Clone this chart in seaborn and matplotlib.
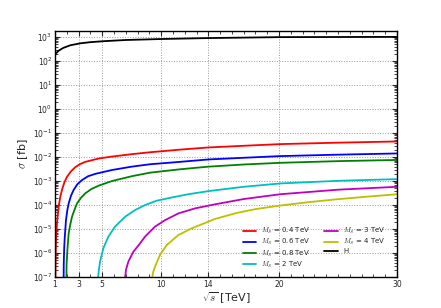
import numpy as np
import pandas as pd
import matplotlib
matplotlib.use("Agg")
import matplotlib.pyplot as plt
import matplotlib.ticker as mticker
import seaborn as sns

# sqrt(s) [TeV] and log10(sigma / fb)
x_04 = [1.0, 1.03, 1.06, 1.1, 1.17, 1.31, 1.45, 1.59, 1.8, 2.02, 2.35, 2.72, 3.1, 3.57, 4.71,
        5.83, 7.5, 9.06, 11.6, 14.0, 17.0, 20.1, 25.0, 30.0]
lg_04 = [-7.8, -7.2, -6.0, -5.3, -4.75, -4.07, -3.65, -3.37, -3.05, -2.82, -2.6, -2.42, -2.3, -2.2, -2.06,
         -1.98, -1.88, -1.8, -1.69, -1.6, -1.53, -1.46, -1.4, -1.35]

x_06 = [1.72, 1.74, 1.78, 1.82, 1.93, 2.05, 2.16, 2.35, 2.58, 2.9, 3.29, 3.8, 4.42, 5.83, 7.5,
        9.06, 11.6, 14.0, 17.0, 20.1, 25.0, 30.0]
lg_06 = [-8.0, -6.5, -5.8, -5.4, -4.63, -4.2, -3.93, -3.62, -3.37, -3.13, -2.96, -2.8, -2.7, -2.54, -2.4,
         -2.3, -2.2, -2.1, -2.03, -1.96, -1.9, -1.85]

x_08 = [1.95, 1.98, 2.05, 2.16, 2.3, 2.44, 2.65, 2.87, 3.2, 3.57, 4.1, 4.71, 5.83, 7.5, 9.06,
        11.6, 14.0, 17.0, 20.1, 25.0, 30.0]
lg_08 = [-8.0, -6.5, -5.88, -5.18, -4.8, -4.49, -4.2, -3.93, -3.7, -3.51, -3.33, -3.19, -3.0, -2.8, -2.65,
         -2.51, -2.4, -2.31, -2.24, -2.17, -2.12]

x_2 = [4.62, 4.66, 4.72, 4.82, 5.1, 5.52, 6.09, 6.94, 7.79, 8.63, 9.62, 10.75, 12.3, 14.0, 17.0,
       20.1, 25.0, 30.0]
lg_2 = [-8.0, -7.0, -6.7, -6.36, -5.8, -5.32, -4.9, -4.49, -4.21, -4.0, -3.82, -3.7, -3.55, -3.42, -3.24,
        -3.1, -2.99, -2.92]

x_3 = [6.9, 6.95, 7.02, 7.22, 7.64, 8.21, 8.63, 9.48, 10.33, 11.46, 12.87, 14.57, 17.0, 20.1, 25.0, 30.0]
lg_3 = [-8.0, -7.0, -6.7, -6.36, -5.95, -5.6, -5.32, -4.9, -4.63, -4.35, -4.14, -3.97, -3.75, -3.55, -3.36, -3.24]

x_4 = [9.18, 9.25, 9.32, 9.48, 9.9, 10.47, 11.46, 12.6, 14.57, 16.4, 18.0, 20.1, 22.5, 24.9, 27.5, 30.0]
lg_4 = [-8.0, -7.0, -6.8, -6.57, -6.08, -5.67, -5.25, -4.97, -4.58, -4.33, -4.17, -4.02, -3.88, -3.76, -3.65, -3.55]

x_h = [1.0, 1.08, 1.3, 1.7, 2.3, 3.12, 4.0, 5.1, 7.0, 9.9, 13.9, 20.1, 30.0]
lg_h = [2.25, 2.32, 2.43, 2.55, 2.66, 2.74, 2.79, 2.83, 2.88, 2.92, 2.96, 3.0, 3.01]

labels = [r"$M_S$ = 0.4 TeV", r"$M_S$ = 0.6 TeV", r"$M_S$ = 0.8 TeV", r"$M_S$ = 2 TeV",
          r"$M_S$ = 3 TeV", r"$M_S$ = 4 TeV", "H"]
colors = ["r", "b", "g", "c", "m", "y", "k"]
xs = [x_04, x_06, x_08, x_2, x_3, x_4, x_h]
lgs = [lg_04, lg_06, lg_08, lg_2, lg_3, lg_4, lg_h]

df = pd.concat([pd.DataFrame({"sqrts": x, "sigma": 10.0 ** np.array(lg), "curve": lab})
                for x, lg, lab in zip(xs, lgs, labels)], ignore_index=True)

sns.set_style("ticks")
plt.rcParams["font.family"] = ["DejaVu Sans"]
plt.rcParams["mathtext.fontset"] = "cm"
plt.rcParams["xtick.direction"] = "in"
plt.rcParams["ytick.direction"] = "in"
plt.rcParams["xtick.top"] = True
plt.rcParams["ytick.right"] = True

fig = plt.figure(figsize=(4.41, 3.08), dpi=100)
ax = fig.add_axes([55 / 441, 1 - 277 / 308, (397 - 55) / 441, (277 - 31) / 308])

sns.lineplot(data=df, x="sqrts", y="sigma", hue="curve", hue_order=labels,
             palette=dict(zip(labels, colors)), estimator=None, sort=False,
             linewidth=1.3, ax=ax)

ax.set_yscale("log")
ax.set_xlim(1, 30)
ax.set_ylim(1e-7, 1.8e3)
ax.set_xticks([1, 3, 5, 10, 14, 20, 30])
ax.xaxis.set_minor_locator(mticker.MultipleLocator(1))
ax.yaxis.set_major_locator(mticker.LogLocator(base=10, numticks=20))
ax.yaxis.set_minor_locator(mticker.LogLocator(base=10, subs=np.arange(2, 10), numticks=20))
ax.yaxis.set_minor_formatter(mticker.NullFormatter())
ax.tick_params(which="major", length=3.5, width=0.8, labelsize=5.5, pad=2)
ax.tick_params(which="minor", length=2, width=0.6)
ax.grid(True, which="major", linestyle=":", color="0.6", linewidth=0.7)
for s in ax.spines.values():
    s.set_color("k")
    s.set_linewidth(1.0)

ax.set_xlabel(r"$\sqrt{s}$ [TeV]", fontsize=8, labelpad=1)
ax.set_ylabel(r"$\sigma$ [fb]", fontsize=8, labelpad=2)

ax.legend(loc="lower right", ncol=2, frameon=False, fontsize=5,
          handlelength=1.9, handletextpad=0.8, columnspacing=2.0, labelspacing=0.12,
          bbox_to_anchor=(0.985, 0.005))

fig.savefig("out.png", dpi=100)
